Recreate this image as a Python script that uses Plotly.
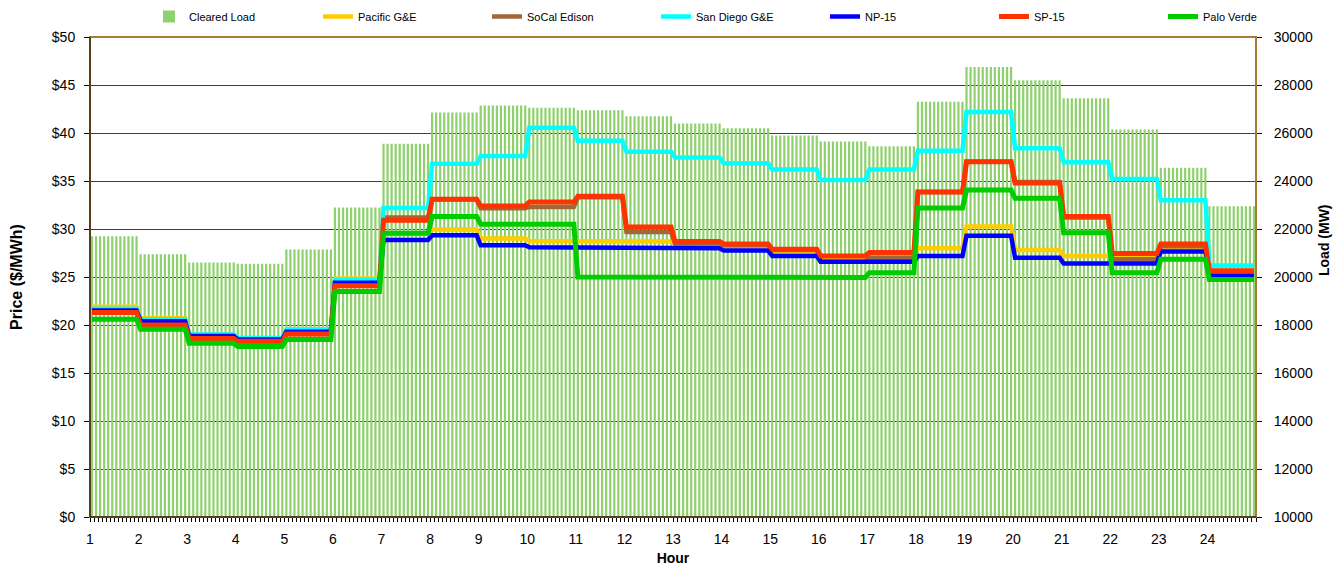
import numpy as np
import plotly.graph_objects as go

# ---------------- data (hourly values, 12 five-minute intervals per hour) ----------------
hours = list(range(1, 25))
intervals_per_hour = 12

cleared_load = [21700, 20950, 20600, 20550, 21150, 22900, 25550, 26850, 27150, 27050, 26950, 26700,
                26400, 26200, 25900, 25650, 25450, 27300, 28750, 28200, 27450, 26150, 24550, 22950]
pacific_ge = [21.9, 20.7, 19.0, 18.6, 19.55, 24.85, 29.5, 29.95, 29.0, 28.75, 28.75, 28.7,
              28.4, 28.2, 27.6, 26.8, 27.2, 28.0, 30.25, 27.8, 27.2, 27.2, 28.0, 25.4]
socal_edison = [21.3, 20.0, 18.6, 18.3, 19.05, 24.1, 31.2, 33.1, 32.15, 32.3, 33.3, 29.7,
                28.5, 28.3, 27.8, 26.6, 27.0, 33.85, 37.0, 34.9, 31.2, 26.85, 28.2, 25.5]
san_diego_ge = [21.7, 20.6, 19.0, 18.65, 19.5, 24.7, 32.2, 36.8, 37.6, 40.55, 39.2, 38.05,
                37.45, 36.85, 36.2, 35.1, 36.2, 38.15, 42.2, 38.4, 36.95, 35.2, 33.0, 26.2]
np15 = [21.5, 20.4, 18.85, 18.5, 19.3, 24.4, 28.85, 29.35, 28.3, 28.1, 28.1, 28.1,
        28.0, 27.75, 27.2, 26.6, 26.6, 27.2, 29.3, 27.0, 26.4, 26.4, 27.65, 25.1]
sp15 = [21.3, 20.0, 18.6, 18.3, 19.05, 24.1, 30.9, 33.1, 32.4, 32.8, 33.4, 30.2,
        28.7, 28.45, 27.9, 27.2, 27.55, 33.85, 37.0, 34.8, 31.3, 27.45, 28.45, 25.65]
palo_verde = [20.6, 19.55, 18.1, 17.75, 18.5, 23.5, 29.55, 31.3, 30.5, 30.5, 25.0, 25.0,
              24.95, 24.95, 24.95, 24.95, 25.45, 32.2, 34.05, 33.2, 29.6, 25.45, 26.85, 24.75]

hour_labels = [str(h) for h in hours]

# ---------------- figure ----------------
# the page places the figure 8px from the top-left corner (default body margin);
# keep the figure small enough that the page does not overflow the window
W, H = 1325, 558
ML, MR, MT, MB = 82, 77, 29, 49
PW, PH = W - ML - MR, H - MT - MB

n = len(hours) * intervals_per_hour
x = np.arange(n) + 0.5


def expand(values):
    return np.repeat(np.asarray(values, dtype=float), intervals_per_hour)


FONT = "Arial, 'Liberation Sans', sans-serif"

fig = go.Figure()
fig.add_trace(go.Bar(
    x=x, y=expand(cleared_load), name="Cleared Load", yaxis="y",
    marker=dict(color="#8FD16F", line=dict(width=0)), width=0.55,
    hovertemplate="%{y:.0f} MW<extra></extra>",
))

series = [
    ("Pacific G&E", pacific_ge, "#FFCC00", 4.5),
    ("SoCal Edison", socal_edison, "#A0683A", 4.5),
    ("San Diego G&E", san_diego_ge, "#00FFFF", 4.5),
    ("NP-15", np15, "#0000FF", 4.5),
    ("SP-15", sp15, "#FF3300", 5),
    ("Palo Verde", palo_verde, "#00CC00", 5),
]
for name, vals, color, w in series:
    fig.add_trace(go.Scatter(
        x=x, y=expand(vals), name=name, yaxis="y2", mode="lines",
        line=dict(color=color, width=w),
    ))

legend_right_rel = 1242   # px from the plot-area left edge
legend_top_rel = -35      # px from the plot-area top edge

fig.update_layout(
    width=W, height=H,
    margin=dict(l=ML, r=MR, t=MT, b=MB, autoexpand=False),
    paper_bgcolor="white", plot_bgcolor="white",
    font=dict(family=FONT, size=14, color="black"),
    showlegend=True,
    legend=dict(
        orientation="h",
        x=legend_right_rel / PW, xanchor="right", xref="paper",
        y=1 - legend_top_rel / PH, yanchor="top", yref="paper",
        font=dict(size=11, color="black"),
        entrywidth=124, entrywidthmode="pixels",
        bgcolor="rgba(0,0,0,0)", traceorder="normal",
    ),
    xaxis=dict(
        range=[0, n], tickmode="array",
        tickvals=[(h - 1) * intervals_per_hour for h in hours], ticktext=hour_labels,
        ticks="outside", ticklen=4, tickcolor="black", tickwidth=1,
        minor=dict(dtick=1, tick0=0, ticks="outside", ticklen=4, tickcolor="black", tickwidth=1),
        showgrid=False, zeroline=False, automargin=False,
        showline=True, linecolor="black", linewidth=1,
        title=dict(text="<b>Hour</b>", font=dict(size=14), standoff=8),
        tickfont=dict(size=14), ticklabelstandoff=5,
    ),
    yaxis=dict(
        side="right", range=[10000, 30000], dtick=2000, tickformat="d",
        ticks="outside", ticklen=5, tickcolor="black", automargin=False,
        showgrid=True, gridcolor="#404040", gridwidth=1, zeroline=False,
        showline=False,
        tickfont=dict(size=14), ticklabelstandoff=9,
    ),
    yaxis2=dict(
        overlaying="y", side="left", range=[0, 50], dtick=5, tickprefix="$",
        ticks="outside", ticklen=5, tickcolor="black", automargin=False,
        showgrid=False, zeroline=False,
        showline=True, linecolor="black", linewidth=1,
        title=dict(text="<b>Price ($/MWh)</b>", font=dict(size=16), standoff=28),
        tickfont=dict(size=14), ticklabelstandoff=6,
    ),
    annotations=[
        dict(text="<b>Load (MW)</b>", textangle=-90, font=dict(size=14),
             xref="paper", yref="paper", x=(PW + 68) / PW, y=(PH - (240 - 37)) / PH,
             xanchor="center", yanchor="middle", showarrow=False),
    ],
    shapes=[
        dict(type="rect", xref="paper", yref="paper", x0=0, x1=1, y0=0, y1=1,
             line=dict(color="#A87C36", width=2), layer="above"),
        dict(type="line", xref="paper", yref="paper", x0=0, x1=0, y0=0, y1=1,
             line=dict(color="black", width=1), layer="above"),
        dict(type="line", xref="paper", yref="paper", x0=0, x1=1, y0=0, y1=0,
             line=dict(color="black", width=1), layer="above"),
    ],
)

fig.write_html("out.html")
